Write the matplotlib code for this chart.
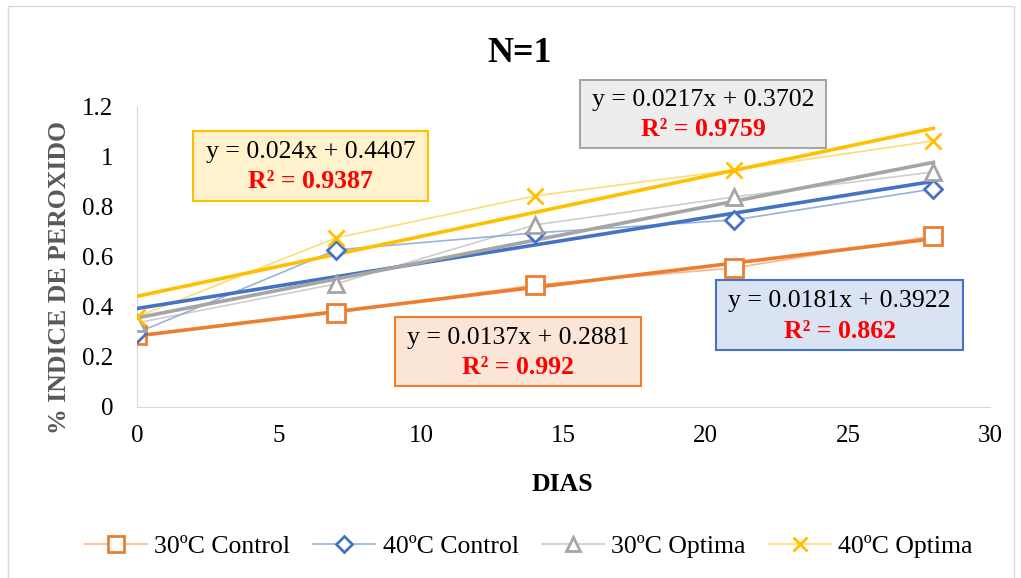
import numpy as np
import matplotlib.pyplot as plt
from matplotlib.patches import Rectangle

plt.rcParams['font.family'] = ['Liberation Serif', 'DejaVu Serif']

# data
dias = [0, 7, 14, 21, 28]
control_30 = [0.288, 0.376, 0.488, 0.556, 0.684]
control_40 = [0.296, 0.628, 0.696, 0.748, 0.872]
optima_30 = [0.336, 0.492, 0.728, 0.840, 0.940]
optima_40 = [0.360, 0.676, 0.844, 0.948, 1.064]

labels = ['30ºC Control', '40ºC Control', '30ºC Optima', '40ºC Optima']
series = [control_30, control_40, optima_30, optima_40]
colors = ['#ED7D31', '#4472C4', '#A5A5A5', '#FFC000']
markers = ['s', 'D', '^', 'x']
msizes = [12.5, 9.5, 11, 11.5]

equations = ['y = 0.0137x + 0.2881', 'y = 0.0181x + 0.3922',
             'y = 0.0217x + 0.3702', 'y = 0.024x + 0.4407']
r2_texts = ['R² = 0.992', 'R² = 0.862', 'R² = 0.9759', 'R² = 0.9387']
box_faces = ['#FBE5D6', '#DAE3F3', '#EDEDED', '#FFF2CC']
# box placement in axes fraction (x0, y0, x1, y1)
box_pos = [(0.302, 0.07, 0.591, 0.30), (0.679, 0.19, 0.968, 0.423),
           (0.519, 0.863, 0.808, 1.09), (0.066, 0.687, 0.341, 0.92)]

fig = plt.figure(figsize=(10.21, 5.78), dpi=100)
ax = fig.add_axes([0.134, 0.296, 0.836, 0.519])

x = np.array(dias)
for lab, ys, c, m, ms in zip(labels, series, colors, markers, msizes):
    ax.plot(x, ys, color=c, alpha=0.55, lw=1.2, zorder=2)
    ax.plot(x, ys, linestyle='none', marker=m, markersize=ms,
            markerfacecolor='white' if m != 'x' else c, markeredgecolor=c,
            markeredgewidth=2, zorder=4)
    k, b = np.polyfit(x, ys, 1)
    ax.plot(x, k * x + b, color=c, lw=2.6, zorder=3)

for eq, r2, fc, ec, (x0, y0, x1, y1) in zip(equations, r2_texts, box_faces, colors, box_pos):
    ax.add_patch(Rectangle((x0, y0), x1 - x0, y1 - y0, transform=ax.transAxes,
                           facecolor=fc, edgecolor=ec, lw=1.5, zorder=5, clip_on=False))
    xc = (x0 + x1) / 2
    h = y1 - y0
    ax.text(xc, y0 + h * 0.70, eq, transform=ax.transAxes, ha='center', va='center',
            fontsize=18.5, color='black', zorder=6)
    ax.text(xc, y0 + h * 0.27, r2, transform=ax.transAxes, ha='center', va='center',
            fontsize=18.5, color='#FF0000', fontweight='bold', zorder=6)

ax.set_xlim(0, 30)
ax.set_ylim(0, 1.2)
ax.set_xticks(range(0, 31, 5))
ax.set_yticks(np.arange(0, 1.21, 0.2))
ax.set_yticklabels(['0', '0.2', '0.4', '0.6', '0.8', '1', '1.2'])
ax.tick_params(axis='y', length=0, labelsize=18, pad=17)
ax.tick_params(axis='x', length=0, labelsize=18, pad=13)
for s in ['top', 'right']:
    ax.spines[s].set_visible(False)
for s in ['left', 'bottom']:
    ax.spines[s].set_color('#D9D9D9')

ax.set_xlabel('DIAS', fontsize=18.5, fontweight='bold', va='center')
ax.xaxis.set_label_coords(0.499, -0.26)
ax.set_ylabel('% INDICE DE PEROXIDO', fontsize=18.5, fontweight='bold',
              color='#595959', va='center')
ax.yaxis.set_label_coords(-0.091, 0.43)
fig.text(0.509, 0.907, 'N=1', fontsize=26, fontweight='bold', ha='center', va='center')

# legend: pale line with a solid marker on top
handles = []
for c, m, ms in zip(colors, markers, msizes):
    ln = plt.Line2D([], [], color=c, lw=1.5, alpha=0.45)
    mk = plt.Line2D([], [], linestyle='none', marker=m, markersize=ms * 0.9,
                    markerfacecolor='white' if m != 'x' else c, markeredgecolor=c,
                    markeredgewidth=2)
    handles.append((ln, mk))
leg = fig.legend(handles, labels, loc='center', bbox_to_anchor=(0.518, 0.054), ncol=4,
                 frameon=False, fontsize=18.5, handlelength=2.4, columnspacing=0.9,
                 handletextpad=0.3)

fig.add_artist(Rectangle((0.008, -0.01), 0.985, 1.0, transform=fig.transFigure,
                         facecolor='none', edgecolor='#D9D9D9', lw=1))

fig.savefig('out.png', dpi=100)
